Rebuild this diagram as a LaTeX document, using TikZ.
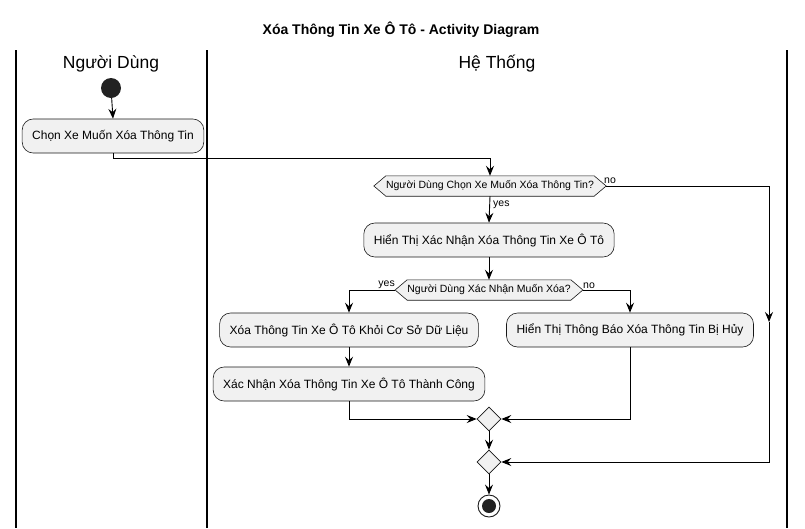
\documentclass[tikz,border=0pt]{standalone}
\usepackage{fontspec}
\setmainfont{Liberation Sans}
\usetikzlibrary{arrows.meta,shapes.geometric,backgrounds,calc}
\definecolor{boxfill}{HTML}{F1F1F1}
\definecolor{boxline}{HTML}{181818}
\definecolor{dot}{HTML}{222222}
\tikzset{
  act/.style={draw=boxline, fill=boxfill, rounded corners=11pt, minimum height=34pt, inner xsep=10pt, inner ysep=0pt, font=\fontsize{12}{14}\selectfont, line width=0.6pt},
  dtext/.style={minimum height=20pt, inner xsep=0pt, inner ysep=0pt, font=\fontsize{10.5}{12}\selectfont},
  hexa/.style={draw=boxline, fill=boxfill, line width=0.6pt},
  merge/.style={diamond, draw=boxline, fill=boxfill, minimum width=24pt, minimum height=24pt, inner sep=0pt, line width=0.6pt},
  conn/.style={draw=black, line width=0.9pt},
  arr/.style={conn, -{Stealth[length=10pt,width=8pt,inset=3.5pt]}},
  lane/.style={draw=black, line width=1.4pt},
  hdr/.style={font=\fontsize{17.5}{20}\selectfont},
  lbl/.style={font=\fontsize{10.5}{12}\selectfont, inner sep=0pt},
}
\begin{document}
\begin{tikzpicture}[x=1pt,y=-1pt]
\useasboundingbox (0,0) rectangle (805,528);
% title
\node[font=\bfseries\fontsize{14}{16}\selectfont] (title) at (401,30) {Xóa Thông Tin Xe Ô Tô - Activity Diagram};
% lanes
\coordinate (l1t) at (16,50); \coordinate (l1b) at (16,528);
\coordinate (l2t) at (207,50); \coordinate (l2b) at (207,528);
\coordinate (l3t) at (787,50); \coordinate (l3b) at (787,528);
\draw[lane] (l1t) -- (l1b);
\draw[lane] (l2t) -- (l2b);
\draw[lane] (l3t) -- (l3b);
\node[hdr] (h1) at (111,64) {Người Dùng};
\node[hdr] (h2) at (497,64) {Hệ Thống};
% start
\node[circle, fill=dot, minimum size=20pt, inner sep=0pt] (start) at (111,88) {};
\node[act] (b1) at (113,136) {Chọn Xe Muốn Xóa Thông Tin};
% decision 1
\node[dtext] (d1) at (490,186) {Người Dùng Chọn Xe Muốn Xóa Thông Tin?};
\coordinate (d1l) at ($(d1.west)+(-12,0)$);
\coordinate (d1r) at ($(d1.east)+(12,0)$);
\node[act] (b2) at (489,240) {Hiển Thị Xác Nhận Xóa Thông Tin Xe Ô Tô};
% decision 2
\node[dtext] (d2) at (489,290) {Người Dùng Xác Nhận Muốn Xóa?};
\coordinate (d2l) at ($(d2.west)+(-12,0)$);
\coordinate (d2r) at ($(d2.east)+(12,0)$);
\node[act] (b3) at (349,330) {Xóa Thông Tin Xe Ô Tô Khỏi Cơ Sở Dữ Liệu};
\node[act] (b4) at (630,330) {Hiển Thị Thông Báo Xóa Thông Tin Bị Hủy};
\node[act] (b5) at (349,384) {Xác Nhận Xóa Thông Tin Xe Ô Tô Thành Công};
\node[merge] (m1) at (489,419) {};
\node[merge] (m2) at (489,462) {};
\node[circle, draw=boxline, line width=0.9pt, minimum size=22pt, inner sep=0pt] (end) at (489,506) {};
\node[circle, fill=dot, minimum size=14pt, inner sep=0pt] (endin) at (end.center) {};
\begin{scope}[on background layer]
\path[hexa] (d1l) -- (d1.north west) -- (d1.north east) -- (d1r) -- (d1.south east) -- (d1.south west) -- cycle;
\path[hexa] (d2l) -- (d2.north west) -- (d2.north east) -- (d2r) -- (d2.south east) -- (d2.south west) -- cycle;
\end{scope}
% connectors
\draw[arr] (start) -- (b1.north);
\draw[arr] (b1.south) -- ++(0,5) -| (d1.north);
\draw[arr] (d1.south) -- (b2.north);
\node[lbl, anchor=west] (yes1) at (493,205) {yes};
\node[lbl, anchor=south west] (no1) at (604,184) {no};
\coordinate (r1) at (769,322);
\draw[arr] (d1r) -| (r1);
\draw[arr] (r1) |- (m2.east);
\draw[arr] (b2.south) -- (d2.north);
\node[lbl, anchor=south east] (yes2) at (395,289) {yes};
\node[lbl, anchor=south west] (no2) at (583,289) {no};
\draw[arr] (d2l) -| (b3.north);
\draw[arr] (d2r) -| (b4.north);
\draw[arr] (b3.south) -- (b5.north);
\draw[arr] (b5.south) |- (m1.west);
\draw[arr] (b4.south) |- (m1.east);
\draw[arr] (m1.south) -- (m2.north);
\draw[arr] (m2.south) -- (end.north);
\end{tikzpicture}
\end{document}
